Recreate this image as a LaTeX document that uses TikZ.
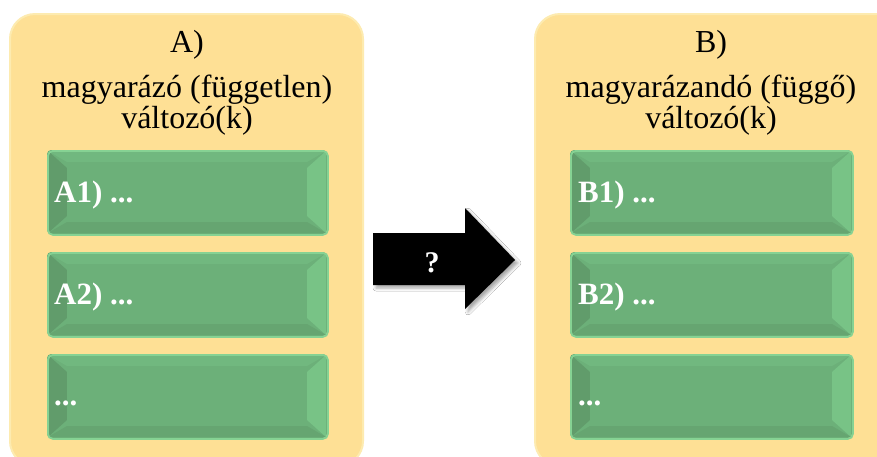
\documentclass[tikz,border=0pt]{standalone}
\usepackage{fontspec}
\setmainfont{Liberation Serif}
\usetikzlibrary{shadows.blur}
\definecolor{panelfill}{HTML}{FEE095}
\definecolor{paneledge}{HTML}{FDEBB0}
\definecolor{boxmain}{HTML}{6CB079}
\definecolor{boxleft}{HTML}{619C6B}
\definecolor{boxright}{HTML}{78C386}
\definecolor{boxtop}{HTML}{71B87F}
\definecolor{boxbot}{HTML}{66A571}
\definecolor{boxedge}{HTML}{86D293}
\tikzset{
  panel/.style={fill=panelfill, draw=paneledge, line width=2pt, rounded corners=25pt},
  titletext/.style={font=\fontsize{32}{32}\selectfont, anchor=base, inner sep=0pt},
  boxlabel/.style={font=\fontsize{31}{31}\selectfont\bfseries, text=white, anchor=base west, inner sep=0pt},
}
% bevelled green box: #1 name, #2 left x, #3 top y, #4 right x, #5 bottom y
\newcommand{\bevelbox}[5]{%
  \fill[boxmain, rounded corners=4pt] (#2,#3) rectangle (#4,#5);
  \fill[boxleft] (#2+1,#3+1) -- (#2+20,#3+18) -- (#2+20,#5-18) -- (#2+1,#5-1) -- cycle;
  \fill[boxright] (#4-1,#3+1) -- (#4-20,#3+18) -- (#4-20,#5-18) -- (#4-1,#5-1) -- cycle;
  \fill[boxtop] (#2+1,#3+1) -- (#4-1,#3+1) -- (#4-20,#3+12) -- (#2+20,#3+12) -- cycle;
  \fill[boxbot] (#2+1,#5-1) -- (#4-1,#5-1) -- (#4-20,#5-12) -- (#2+20,#5-12) -- cycle;
  \fill[boxmain] (#2+20,#3+12) rectangle (#4-20,#5-12);
  \node[draw=boxedge, line width=1.8pt, rounded corners=5pt, inner sep=0pt,
        minimum width=#4-#2, minimum height=#5-#3, anchor=north west] (#1) at (#2,#3) {};
}
\begin{document}
\begin{tikzpicture}[x=1pt, y=-1pt]
\path[use as bounding box, clip] (0,0) rectangle (877,456);
\fill[white] (0,0) rectangle (877,456);

% panels
\path[panel] (10,14) rectangle (363,466);
\path[panel] (535,14) rectangle (910,466);

% titles
\node[titletext] (ta) at (187,52) {A)};
\node[titletext] (ta1) at (187,97) {magyarázó (független)};
\node[titletext] (ta2) at (187,128) {változó(k)};
\node[titletext] (tb) at (711,52) {B)};
\node[titletext] (tb1) at (711,97) {magyarázandó (függő)};
\node[titletext] (tb2) at (711,128) {változó(k)};

% green boxes
\bevelbox{a1}{47}{150}{327}{234}
\bevelbox{a2}{47}{252}{327}{336}
\bevelbox{a3}{47}{354}{327}{438}
\bevelbox{b1}{570}{150}{852}{234}
\bevelbox{b2}{570}{252}{852}{336}
\bevelbox{b3}{570}{354}{852}{438}

\node[boxlabel] (la1) at (54,202) {A1) ...};
\node[boxlabel] (la2) at (54,304) {A2) ...};
\node[boxlabel] (la3) at (54,405) {...};
\node[boxlabel] (lb1) at (578,202) {B1) ...};
\node[boxlabel] (lb2) at (578,304) {B2) ...};
\node[boxlabel] (lb3) at (578,405) {...};

% arrow
\fill[black, blur shadow={shadow xshift=3pt, shadow yshift=-3pt, shadow blur radius=3pt, shadow opacity=35}]
  (373,233) -- (465,233) -- (465,208) -- (515,260) -- (465,309) -- (465,285) -- (373,285) -- cycle;
\node[font=\fontsize{30}{30}\selectfont\bfseries, text=white, anchor=base, inner sep=0pt] (q) at (432,272) {?};
\end{tikzpicture}
\end{document}
